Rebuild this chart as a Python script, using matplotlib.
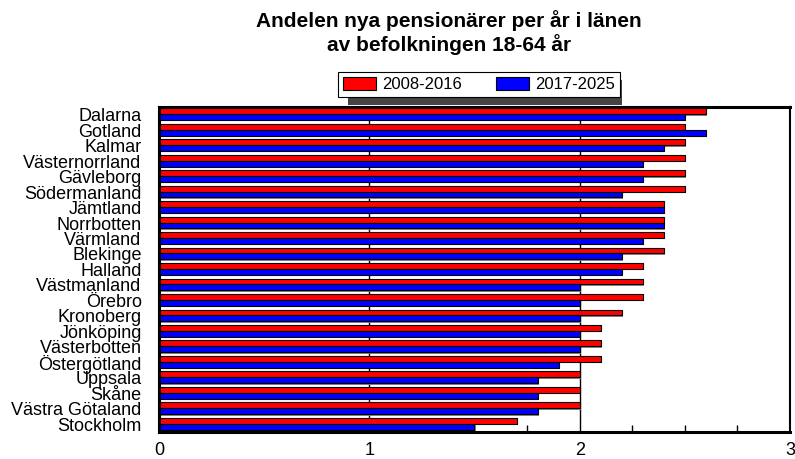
import matplotlib
matplotlib.use("Agg")
import matplotlib.pyplot as plt
import matplotlib.patheffects as pe
from matplotlib.patches import Rectangle
import numpy as np

plt.rcParams['font.family'] = ['Liberation Sans', 'DejaVu Sans']

categories = ["Dalarna", "Gotland", "Kalmar", "Västernorrland", "Gävleborg",
              "Södermanland", "Jämtland", "Norrbotten", "Värmland", "Blekinge",
              "Halland", "Västmanland", "Örebro", "Kronoberg", "Jönköping",
              "Västerbotten", "Östergötland", "Uppsala", "Skåne",
              "Västra Götaland", "Stockholm"]
s2008 = [2.6, 2.5, 2.5, 2.5, 2.5, 2.5, 2.4, 2.4, 2.4, 2.4, 2.3, 2.3, 2.3,
         2.2, 2.1, 2.1, 2.1, 2.0, 2.0, 2.0, 1.7]
s2017 = [2.5, 2.6, 2.4, 2.3, 2.3, 2.2, 2.4, 2.4, 2.3, 2.2, 2.2, 2.0, 2.0,
         2.0, 2.0, 2.0, 1.9, 1.8, 1.8, 1.8, 1.5]
series_names = ["2008-2016", "2017-2025"]
xticks = [0, 1, 2, 3]

fig = plt.figure(figsize=(7.95, 4.59), dpi=100)
ax = fig.add_axes([0.2, 0.059, 0.7937, 0.708])

n = len(categories)
y = np.arange(n)
h = 0.38
shadow = [pe.SimplePatchShadow(offset=(1, -1), shadow_rgbFace='#777777', alpha=0.9), pe.Normal()]
b1 = ax.barh(y - h/2 - 0.03, s2008, height=h, color='#ff0000', edgecolor='black',
             linewidth=0.8, label=series_names[0], zorder=3)
b2 = ax.barh(y + h/2 - 0.03, s2017, height=h, color='#0000ff', edgecolor='black',
             linewidth=0.8, label=series_names[1], zorder=3)
for b in list(b1) + list(b2):
    b.set_path_effects(shadow)

ax.set_ylim(n - 0.5, -0.5)
ax.set_xlim(0, 3)
ax.set_yticks(y)
ax.set_yticklabels(categories, fontsize=13)
ax.tick_params(axis='y', length=0, pad=12.5)
ax.set_xticks(xticks)
ax.set_xticklabels([str(t) for t in xticks], fontsize=13)
ax.set_xticks(np.arange(0.25, 3, 0.25), minor=True)
ax.tick_params(axis='x', which='major', length=0, pad=7)
ax.tick_params(axis='x', which='minor', direction='in', length=5, width=1, color='black')
ax.grid(axis='x', which='major', color='black', linewidth=1, zorder=1)
ax.set_axisbelow(True)

for side in ['left', 'bottom', 'top']:
    ax.spines[side].set_linewidth(2.2)
ax.spines['right'].set_linewidth(1.5)
for sp in ax.spines.values():
    sp.set_zorder(5)
    sp.set_path_effects([pe.SimplePatchShadow(offset=(1.5, -1.5), shadow_rgbFace='#777777'), pe.Normal()])

fig.text(0.565, 1 - 32.5/459, "Andelen nya pensionärer per år i länen\nav befolkningen 18-64 år",
         ha='center', va='center', fontsize=15, fontweight='bold', linespacing=1.15)

# legend shadow
fig.patches.append(Rectangle((348/795, 1 - 105/459), (622-348)/795, (105-80)/459,
                             transform=fig.transFigure, facecolor='#444444',
                             edgecolor='none', zorder=1))
leg = fig.legend(handles=[b1, b2], labels=series_names, loc='center',
                 bbox_to_anchor=(479/795, 1 - 84.5/459), ncol=2, fontsize=12,
                 frameon=True, fancybox=False, edgecolor='black', framealpha=1,
                 handlelength=2.0, handleheight=0.8, columnspacing=2.0,
                 handletextpad=0.4, borderpad=0.3, borderaxespad=0)
leg.get_frame().set_linewidth(0.8)
leg.set_zorder(10)

fig.savefig("out.png", dpi=100)
